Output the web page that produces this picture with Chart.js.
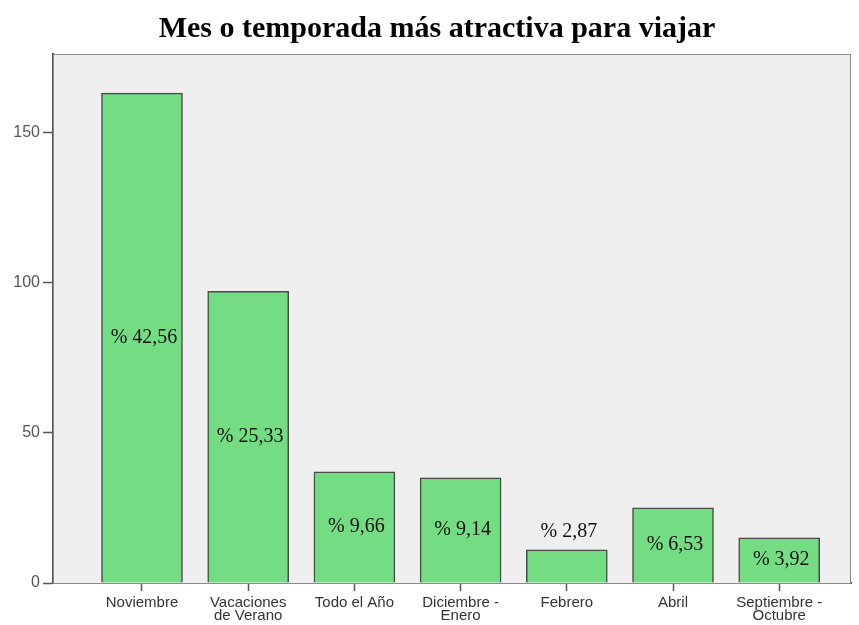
<!DOCTYPE html>
<html>
<head>
<meta charset="utf-8">
<script src="https://cdn.jsdelivr.net/npm/chart.js@4"></script>
<style>
  body { margin: 0; background: #fff; }
</style>
</head>
<body>
<canvas id="BarChart" width="859" height="625"></canvas>
<script>
const chartTitle = "Mes o temporada más atractiva para viajar";
const categories = [
  ["Noviembre"],
  ["Vacaciones", "de Verano"],
  ["Todo el Año"],
  ["Diciembre -", "Enero"],
  ["Febrero"],
  ["Abril"],
  ["Septiembre -", "Octubre"]
];
const counts = [163, 97, 37, 35, 11, 25, 15];
const percents = ["42,56", "25,33", "9,66", "9,14", "2,87", "6,53", "3,92"];
const yTicks = [0, 50, 100, 150];

// gray plot box behind the bars
const plotBox = {
  id: "plotBox",
  beforeDatasetsDraw(chart) {
    const { ctx, chartArea: a } = chart;
    ctx.save();
    ctx.fillStyle = "#efefef";
    ctx.fillRect(a.left, a.top, a.right - a.left, a.bottom - a.top);
    ctx.strokeStyle = "#8a8a8a";
    ctx.lineWidth = 1;
    ctx.strokeRect(a.left + 0.5, a.top + 0.5, a.right - a.left - 1, a.bottom - a.top);
    ctx.restore();
  }
};

// title, a little left of the plot centre like the original
const titleText = {
  id: "titleText",
  afterDraw(chart) {
    const { ctx } = chart;
    ctx.save();
    ctx.font = 'bold 30px "Liberation Serif"';
    ctx.fillStyle = "#000";
    ctx.textAlign = "center";
    ctx.textBaseline = "alphabetic";
    ctx.fillText(chartTitle, 437, 37);
    ctx.restore();
  }
};

// percentage text in (or above) each bar
const pctLabels = {
  id: "pctLabels",
  afterDatasetsDraw(chart) {
    const { ctx } = chart;
    ctx.save();
    ctx.font = '20px "Liberation Serif"';
    ctx.fillStyle = "#111";
    ctx.textAlign = "center";
    ctx.textBaseline = "middle";
    chart.getDatasetMeta(0).data.forEach((bar, i) => {
      const h = bar.base - bar.y;
      const y = h > 40 ? (bar.y + bar.base) / 2 : bar.y - 18;
      ctx.fillText("% " + percents[i], bar.x + 2, y);
    });
    ctx.restore();
  }
};

const BarChart = document.getElementById("BarChart");
new Chart(BarChart, {
  type: "bar",
  data: {
    datasets: [{
      data: counts.map((v, i) => ({ x: i, y: v })),
      backgroundColor: "#74dc83",
      borderColor: "#4a4a4a",
      borderWidth: 1.5,
      barThickness: 81
    }]
  },
  options: {
    responsive: false,
    animation: false,
    layout: { padding: { left: 0, right: 8, top: 54, bottom: 0 } },
    plugins: {
      legend: { display: false },
      tooltip: { enabled: false },
      title: { display: false }
    },
    scales: {
      x: {
        type: "linear",
        offset: false,
        min: -0.838,
        max: 6.676,
        afterBuildTicks: s => { s.ticks = categories.map((c, i) => ({ value: i })); },
        afterFit: s => { s.height = 42; },
        ticks: {
          callback: v => categories[v],
          color: "#333",
          font: { family: '"Liberation Sans"', size: 15, lineHeight: 0.88 },
          padding: 5,
          maxRotation: 0,
          autoSkip: false
        },
        grid: { display: true, offset: false, drawOnChartArea: false, tickLength: 8, color: "#555", tickWidth: 1.5 },
        border: { color: "#555", width: 2 }
      },
      y: {
        min: 0,
        max: 176,
        afterBuildTicks: s => { s.ticks = yTicks.map(v => ({ value: v })); },
        afterFit: s => { s.width = 53; },
        ticks: {
          color: "#555",
          font: { family: '"Liberation Sans"', size: 16 },
          padding: 3
        },
        grid: { display: true, drawOnChartArea: false, tickLength: 10, color: "#555", tickWidth: 1.5 },
        border: { color: "#555", width: 2 }
      }
    }
  },
  plugins: [plotBox, pctLabels, titleText]
});
</script>
</body>
</html>
